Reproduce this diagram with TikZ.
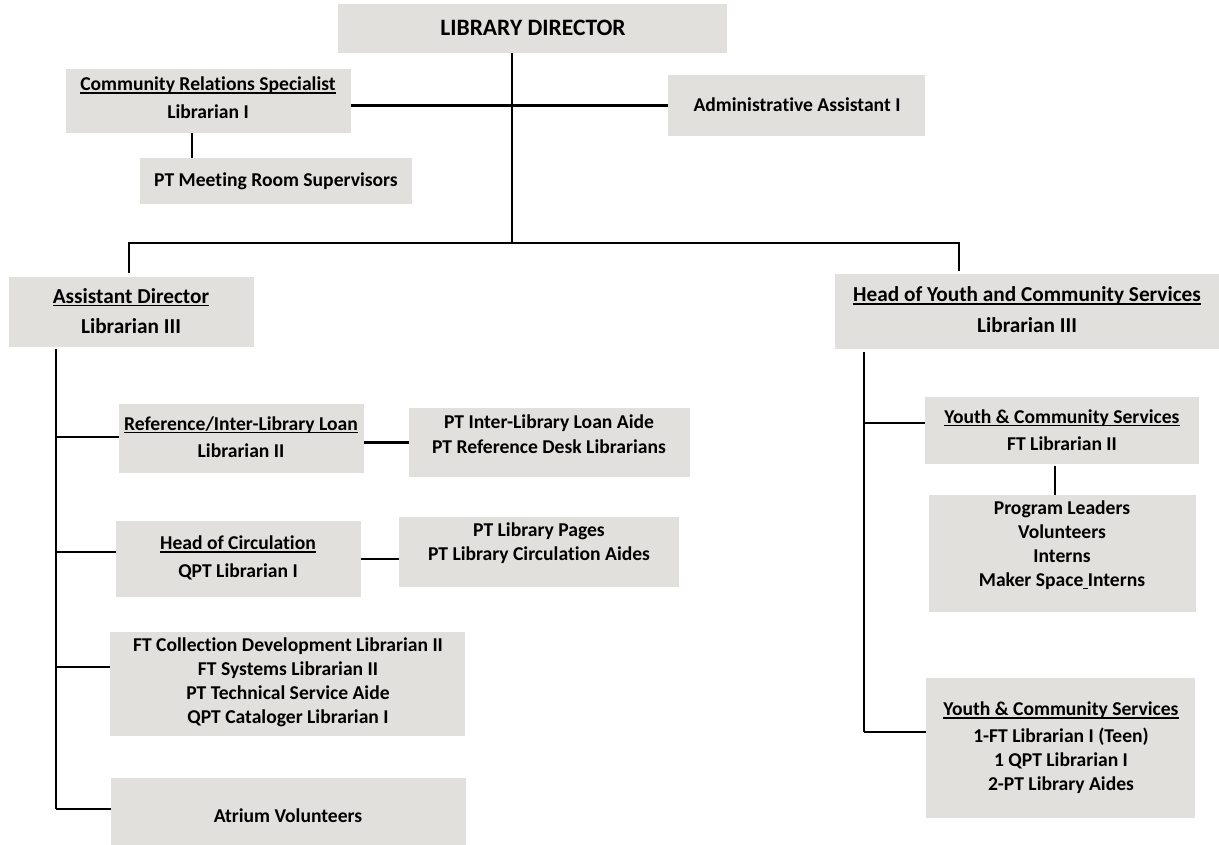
\documentclass[tikz,border=0pt]{standalone}
\usepackage{fontspec}
\setmainfont{Carlito}[Ligatures={NoCommon}]
\definecolor{boxgrey}{RGB}{225,224,220}
% box: name, left, top, right, bottom (y grows downward)
\newcommand\orgbox[5]{%
  \node[box, minimum width={(#4-#2)*1pt}, minimum height={(#5-#3)*1pt}] (#1) at (#2,#3) {};}
% heavier underline, set close to the baseline
\newcommand\ulin[1]{\setbox0\hbox{#1}\rlap{\rule[-3pt]{\wd0}{1.5pt}}\box0}
\begin{document}
\begin{tikzpicture}[x=1pt, y=-1pt,
  box/.style={fill=boxgrey, draw=none, inner sep=0pt, outer sep=0pt, anchor=north west},
  lbl/.style={font=\bfseries\fontsize{19.6}{24}\selectfont, align=center, inner sep=0pt},
  headlbl/.style={lbl, font=\bfseries\fontsize{21.3}{26}\selectfont},
  biglbl/.style={lbl, font=\bfseries\fontsize{23.5}{26}\selectfont},
  link/.style={draw=black, line width=2.2pt}]
\useasboundingbox (0,0) rectangle (1219,845);

% boxes
\orgbox{ld}{338}{4}{727}{53}
\orgbox{cr}{66}{69}{351}{133}
\orgbox{ptm}{140}{158}{412}{204}
\orgbox{adm}{668}{75}{925}{136}
\orgbox{ad}{9}{277}{254}{347}
\orgbox{hy}{835}{274}{1219}{349}
\orgbox{ref}{119}{404}{364}{473}
\orgbox{pill}{409}{408}{690}{477}
\orgbox{circ}{116}{521}{361}{597}
\orgbox{pp}{399}{517}{679}{587}
\orgbox{coll}{110}{632}{465}{736}
\orgbox{atr}{111}{778}{466}{845}
\orgbox{ycsa}{925}{397}{1199}{464}
\orgbox{prog}{929}{495}{1196}{612}
\orgbox{ycsb}{926}{678}{1195}{818}

% labels
\node[biglbl] (ld-t) at (533,28) {LIBRARY DIRECTOR};
\node[lbl] (cr-t) at (208,98) {\ulin{Community Relations Specialist}\\[4pt]Librarian I};
\node[lbl] (ptm-t) at (276,181) {PT Meeting Room Supervisors};
\node[lbl] (adm-t) at (797,105) {Administrative Assistant I};
\node[headlbl] (ad-t) at (131,311) {\ulin{Assistant Director}\\[4pt]Librarian III};
\node[headlbl] (hy-t) at (1027,310) {\ulin{Head of Youth and Community Services}\\[5pt]Librarian III};
\node[lbl] (ref-t) at (241,437) {\ulin{Reference/Inter-Library Loan}\\[3pt]Librarian II};
\node[lbl] (pill-t) at (549,434) {PT Inter-Library Loan Aide\\[1pt]PT Reference Desk Librarians};
\node[lbl] (circ-t) at (238,558) {\ulin{Head of Circulation}\\[4pt]QPT Librarian I};
\node[lbl] (pp-t) at (539,543) {PT Library Pages\\PT Library Circulation Aides};
\node[lbl] (coll-t) at (288,682) {FT Collection Development Librarian II\\FT Systems Librarian II\\PT Technical Service Aide\\QPT Cataloger Librarian I};
\node[lbl] (atr-t) at (288,816) {Atrium Volunteers};
\node[lbl] (ycsa-t) at (1062,430) {\ulin{Youth \& Community Services}\\[3pt]FT Librarian II};
\node[lbl] (prog-t) at (1062,545) {Program Leaders\\Volunteers\\Interns\\Maker Space\ulin{\ }Interns};
\node[lbl] (ycsb-t) at (1061,748) {\ulin{Youth \& Community Services}\\[3pt]1-FT Librarian I (Teen)\\1 QPT Librarian I\\2-PT Library Aides};

% junction points
\coordinate (barM) at (512,243);
\coordinate (barL) at (129,243);
\coordinate (barR) at (959,243);
\coordinate (crdrop) at (192,0);
\coordinate (adT) at (56,0);
\coordinate (adb1) at (56,437);
\coordinate (adb2) at (56,552);
\coordinate (adb3) at (56,667);
\coordinate (adb4) at (56,809);
\coordinate (hyT) at (864,0);
\coordinate (hyb1) at (864,423);
\coordinate (hyb2) at (864,732);
\coordinate (ycsdrop) at (1055,0);

% connectors
\draw[link] (ld.south -| barM) -- (barM);
\draw[link] (cr.east |- adm.west) -- (adm.west);
\draw[link] (cr.south -| crdrop) -- (ptm.north -| crdrop);
\draw[link, shorten <=4pt, shorten >=3pt] (ad.north -| barL) -- (barL) -- (barR) -- (hy.north -| barR);

\draw[link, shorten <=2pt] (ad.south -| adT) -- (adb4);
\draw[link] (adb1) -- (adb1 -| ref.west);
\draw[link] (adb2) -- (adb2 -| circ.west);
\draw[link] (adb3) -- (adb3 -| coll.west);
\draw[link] (adb4) -- (adb4 -| atr.west);
\draw[link] (ref.east |- pill.west) -- (pill.west);
\draw[link] (circ.east) -- (circ.east -| pp.west);

\draw[link, shorten <=3pt] (hy.south -| hyT) -- (hyb2);
\draw[link] (hyb1) -- (hyb1 -| ycsa.west);
\draw[link] (hyb2) -- (hyb2 -| ycsb.west);
\draw[link, shorten <=2pt] (ycsa.south -| ycsdrop) -- (prog.north -| ycsdrop);
\end{tikzpicture}
\end{document}
